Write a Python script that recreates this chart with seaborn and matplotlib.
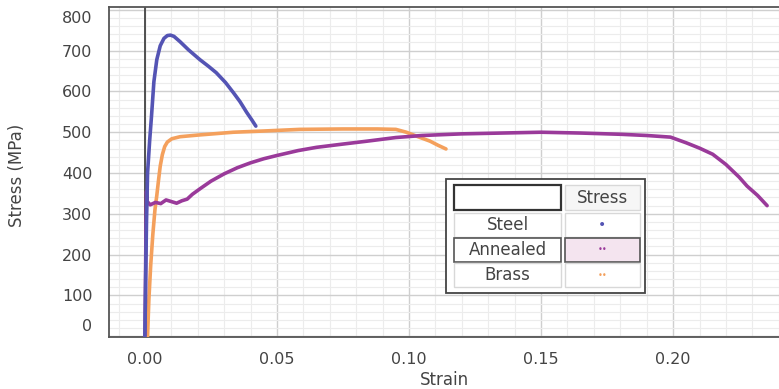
import numpy as np
import pandas as pd
import matplotlib
matplotlib.use("Agg")
import matplotlib.pyplot as plt
import matplotlib.transforms as mtrans
from matplotlib.patches import Rectangle
from matplotlib.ticker import AutoMinorLocator
import seaborn as sns

# ---------------- data ----------------
steel_strain = [0.0, 0.0003, 0.0006, 0.0010, 0.0018, 0.0025, 0.0034, 0.0045, 0.0058, 0.0072,
                0.0085, 0.0097, 0.0110, 0.0133, 0.0165, 0.0208, 0.0240, 0.0270, 0.0305, 0.0335,
                0.0360, 0.0385, 0.0405, 0.0420]
steel_stress = [0, 150, 280, 400, 480, 540, 624, 678, 712, 730,
                737, 738, 735, 722, 702, 678, 662, 646, 622, 597,
                575, 549, 530, 515]

annealed_strain = [0.0, 0.0002, 0.0004, 0.0006, 0.0009, 0.002, 0.004, 0.006, 0.008, 0.010,
                   0.012, 0.014, 0.016, 0.018, 0.021, 0.025, 0.030, 0.035, 0.040, 0.045,
                   0.050, 0.058, 0.065, 0.075, 0.084, 0.095, 0.105, 0.120, 0.135, 0.150,
                   0.165, 0.180, 0.190, 0.199, 0.205, 0.210, 0.215, 0.220, 0.225, 0.228,
                   0.232, 0.2356]
annealed_stress = [0, 120, 260, 355, 330, 322, 328, 325, 334, 330,
                   326, 332, 336, 348, 362, 380, 398, 413, 425, 435,
                   443, 455, 463, 471, 478, 487, 492, 496, 498, 500,
                   498, 495, 492, 488, 474, 461, 446, 421, 390, 368,
                   345, 320]

brass_strain = [0.0010, 0.0015, 0.0022, 0.0030, 0.0038, 0.0045, 0.0052, 0.0058, 0.0066, 0.0075,
                0.0085, 0.0102, 0.0133, 0.0200, 0.0335, 0.0450, 0.0587, 0.0750, 0.0880, 0.0950,
                0.0990, 0.1030, 0.1080, 0.1110, 0.1140]
brass_stress = [0, 90, 175, 250, 310, 345, 385, 417, 445, 465,
                476, 484, 489, 493, 500, 503, 507, 508, 508, 507,
                500, 490, 478, 468, 459]

series_names = ["Steel", "Annealed", "Brass"]
x_ticks = [0.00, 0.05, 0.10, 0.15, 0.20]
y_ticks = [0, 100, 200, 300, 400, 500, 600, 700, 800]
x_label = "Strain"
y_label = "Stress (MPa)"
legend_header = "Stress"

colors = {"Steel": "#5454b4", "Annealed": "#9a3a9a", "Brass": "#f4a05c"}

df = pd.concat([
    pd.DataFrame({"Strain": brass_strain, "Stress": brass_stress, "Material": "Brass"}),
    pd.DataFrame({"Strain": annealed_strain, "Stress": annealed_stress, "Material": "Annealed"}),
    pd.DataFrame({"Strain": steel_strain, "Stress": steel_stress, "Material": "Steel"}),
], ignore_index=True)

# ---------------- figure ----------------
sns.set_theme(style="white")
plt.rcParams["font.family"] = ["DejaVu Sans"]

W, H = 779, 389
fig = plt.figure(figsize=(W / 100, H / 100), dpi=100)
ax = fig.add_axes([109 / W, 1 - 337 / H, (779 - 109) / W, (337 - 7) / H])
ax.set_facecolor("white")

ax.axvline(0, color="#444444", lw=1.3, zorder=1.5)

sns.lineplot(data=df, x="Strain", y="Stress", hue="Material",
             hue_order=["Brass", "Annealed", "Steel"], palette=colors,
             sort=False, estimator=None, units="Material",
             linewidth=2.6, legend=False, ax=ax, zorder=3)

ax.set_xlim(-0.0136, 0.2401)
ax.set_ylim(-2, 807)
ax.set_xticks(x_ticks)
ax.set_xticklabels([f"{v:.2f}" for v in x_ticks])
ax.set_yticks(y_ticks)
ax.set_yticklabels([str(v) for v in y_ticks])
ax.xaxis.set_minor_locator(AutoMinorLocator(5))
ax.yaxis.set_minor_locator(AutoMinorLocator(5))

ax.grid(which="major", color="#cfcfcf", lw=1.0, zorder=0)
ax.grid(which="minor", color="#ececec", lw=0.8, zorder=0)
ax.set_axisbelow(True)

for s in ["left", "bottom", "top"]:
    ax.spines[s].set_visible(True)
    ax.spines[s].set_color("#555555")
    ax.spines[s].set_linewidth(1.3)
ax.spines["right"].set_visible(False)

ax.tick_params(axis="both", which="major", direction="out", length=5, width=1,
               color="#bbbbbb", labelcolor="#444444", labelsize=11.5, pad=6)
ax.tick_params(axis="both", which="minor", length=0)
ax.tick_params(axis="y", labelsize=11.5, pad=7)

ax.set_xlabel(x_label, fontsize=12, color="#444444")
ax.set_ylabel(y_label, fontsize=12, color="#444444")
ax.xaxis.set_label_coords(0.5, -0.103)
ax.yaxis.set_label_coords(-0.124, 0.49)

# shift the end labels inward like the original
ylabels = ax.get_yticklabels()
ylabels[0].set_transform(ylabels[0].get_transform() +
                         mtrans.ScaledTranslation(0, 0.11, fig.dpi_scale_trans))
ylabels[-1].set_transform(ylabels[-1].get_transform() +
                          mtrans.ScaledTranslation(0, -0.07, fig.dpi_scale_trans))

# ---------------- table-style legend ----------------
def fx(px):
    return px / W

def fy(py):
    return 1 - py / H

def box(x0, y0, x1, y1, fc="white", ec="#cccccc", lw=1.0, z=10):
    fig.add_artist(Rectangle((fx(x0), fy(y1)), fx(x1) - fx(x0), fy(y0) - fy(y1),
                             transform=fig.transFigure, facecolor=fc, edgecolor=ec,
                             lw=lw, zorder=z))

box(446, 179, 645, 293, fc="white", ec="#444444", lw=1.3, z=9)
box(454, 185, 561, 210, fc="white", ec="#333333", lw=1.6)
box(565, 185, 640, 210, fc="#f6f6f6", ec="#d8d8d8", lw=1.0)
fig.text(fx(602.5), fy(198), legend_header, ha="center", va="center",
         fontsize=12, color="#444444", zorder=12)
rows = [(213, 237), (238, 262), (263, 287)]
for name, (r0, r1) in zip(series_names, rows):
    if name == "Annealed":
        box(454, r0, 561, r1, fc="white", ec="#555555", lw=1.2)
        box(565, r0, 640, r1, fc="#f4e4ef", ec="#555555", lw=1.2)
    else:
        box(454, r0, 561, r1, fc="white", ec="#d8d8d8", lw=1.0)
        box(565, r0, 640, r1, fc="white", ec="#d8d8d8", lw=1.0)
    cy = (r0 + r1) / 2
    fig.text(fx(507.5), fy(cy), name, ha="center", va="center",
             fontsize=12, color="#444444", zorder=12)
    if name == "Steel":
        fig.text(fx(602.5), fy(cy), "\u2022", ha="center", va="center",
                 fontsize=10, color=colors[name], zorder=12)
    else:
        fig.text(fx(602.5), fy(cy), "\u2022\u2022", ha="center", va="center",
                 fontsize=6, color=colors[name], zorder=12)

fig.savefig("out.png", dpi=100, facecolor="white")
